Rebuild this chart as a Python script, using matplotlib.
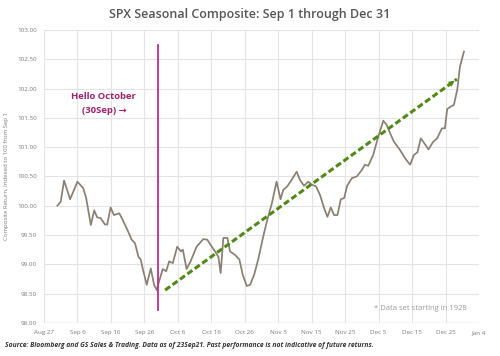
import matplotlib
matplotlib.use("Agg")
from matplotlib import pyplot as plt

plt.rcParams['font.family'] = ['Open Sans', 'DejaVu Sans']

# days after Aug 27 (x axis origin) and composite values
days = [4.0, 5.0, 6.0, 7.8, 10.0, 11.7, 12.6, 14.0, 15.0, 15.9, 16.9, 18.2, 18.9,
        19.9, 20.9, 22.5, 23.5, 24.9, 26.2, 27.2, 28.2, 28.9, 29.7, 30.7, 31.9,
        32.9, 33.7, 34.5, 35.5, 36.5, 37.4, 38.5, 39.8, 40.9, 41.5, 42.6, 43.8,
        45.6, 47.6, 48.8, 49.8, 51.1, 52.1, 52.8, 53.6, 54.8, 55.6, 57.1, 58.4,
        59.4, 60.6, 61.6, 62.8, 64.0, 65.5, 66.6, 68.1, 69.5, 70.7, 71.5, 72.7,
        74.0, 75.5, 76.5, 77.7, 79.0, 80.0, 81.3, 82.5, 83.7, 84.7, 85.7, 86.7,
        87.7, 88.7, 89.7, 90.6, 92.0, 93.5, 95.0, 95.9, 96.9, 98.4, 99.9, 101.4,
        102.4, 103.4, 104.6, 106.4, 107.9, 109.4, 110.6, 111.6, 112.6, 113.6,
        114.9, 116.3, 117.5, 118.9, 119.8, 120.5, 121.5, 122.5, 123.5, 124.3, 125.5]
values = [100.00, 100.07, 100.43, 100.11, 100.41, 100.30, 100.13, 99.67, 99.92, 99.80,
          99.79, 99.68, 99.68, 99.97, 99.84, 99.87, 99.76, 99.59, 99.42, 99.36, 99.13,
          99.08, 98.88, 98.65, 98.93, 98.65, 98.56, 98.73, 98.92, 98.88, 99.05, 99.02,
          99.30, 99.22, 99.25, 98.92, 99.05, 99.30, 99.43, 99.42, 99.33, 99.22, 99.13,
          98.85, 99.45, 99.45, 99.22, 99.16, 99.08, 98.82, 98.63, 98.65, 98.82, 99.08,
          99.47, 99.73, 100.04, 100.41, 100.11, 100.27, 100.33, 100.44, 100.58, 100.44,
          100.34, 100.41, 100.36, 100.33, 100.18, 99.96, 99.81, 99.97, 99.84, 99.84,
          100.11, 100.13, 100.34, 100.47, 100.50, 100.61, 100.70, 100.68, 100.87, 101.18,
          101.45, 101.38, 101.24, 101.09, 100.95, 100.81, 100.70, 100.87, 100.91, 101.15,
          101.07, 100.96, 101.09, 101.15, 101.32, 101.32, 101.65, 101.69, 101.72, 101.98,
          102.37, 102.63]

x_ticks = [0, 10, 20, 30, 40, 50, 60, 70, 80, 90, 100, 110, 120, 130]
x_labels = ["Aug 27", "Sep 6", "Sep 16", "Sep 26", "Oct 6", "Oct 16", "Oct 26",
            "Nov 5", "Nov 15", "Nov 25", "Dec 5", "Dec 15", "Dec 25", "Jan 4"]
y_ticks = [98.0, 98.5, 99.0, 99.5, 100.0, 100.5, 101.0, 101.5, 102.0, 102.5, 103.0]

oct_day = 34  # Sep 30
trend_days = [36.2, 123.4]
trend_values = [98.56, 102.16]

fig = plt.figure(figsize=(5, 3.56), dpi=100)
ax = fig.add_axes([0.088, 0.093, 0.870, 0.823])

ax.set_xlim(0, 130)
ax.set_ylim(98, 103)
ax.set_xticks(x_ticks)
ax.set_xticklabels(x_labels)
ax.set_yticks(y_ticks)
ax.set_yticklabels(["%.2f" % v for v in y_ticks])
ax.tick_params(length=0, labelsize=4.5, colors='#7a7a7a', pad=5)
ax.grid(True, color='#e3e3e3', lw=0.8)
ax.set_axisbelow(True)
for s in ax.spines.values():
    s.set_visible(False)
ax.axhline(98, color='#d0d0d0', lw=0.9)

ax.plot(days, values, color='#8a7f72', lw=1.25, solid_joinstyle='round')

ax.plot([oct_day, oct_day], [98.22, 102.74], color='#c42b8e', lw=1.3)

# dashed trend arrow
green = '#4f8a12'
ax.plot(trend_days, trend_values, color=green, lw=2.2, dashes=(2, 1))
ax.annotate('', xy=(trend_days[1], trend_values[1]),
            xytext=(trend_days[1] - 2.5, trend_values[1] - 0.103),
            arrowprops=dict(arrowstyle='-|>', color=green, lw=0, mutation_scale=11))

ax.text(17.9, 101.86, "Hello October", ha='center', va='center',
        fontsize=6.8, fontweight='bold', color='#a3206f')
ax.text(17.9, 101.63, "(30Sep) \u2192", ha='center', va='center',
        fontsize=6.8, fontweight='bold', color='#a3206f')

ax.text(126.5, 98.24, "* Data set starting in 1928", ha='right', va='center',
        fontsize=5.5, color='#9a9a9a')

ax.set_ylabel("Composite Return, Indexed to 100 from Sep 1", fontsize=4.3,
              color='#7a7a7a', labelpad=6)

fig.text(0.5, 0.958, "SPX Seasonal Composite: Sep 1 through Dec 31", ha='center',
         va='center', fontsize=9, fontweight='semibold', color='#555555')
fig.text(0.01, 0.03, "Source: Bloomberg and GS Sales & Trading. Data as of 23Sep21. "
         "Past performance is not indicative of future returns.",
         ha='left', va='center', fontsize=4.9, fontweight='bold', style='italic',
         color='#333333')

fig.savefig("out.png", dpi=100)
